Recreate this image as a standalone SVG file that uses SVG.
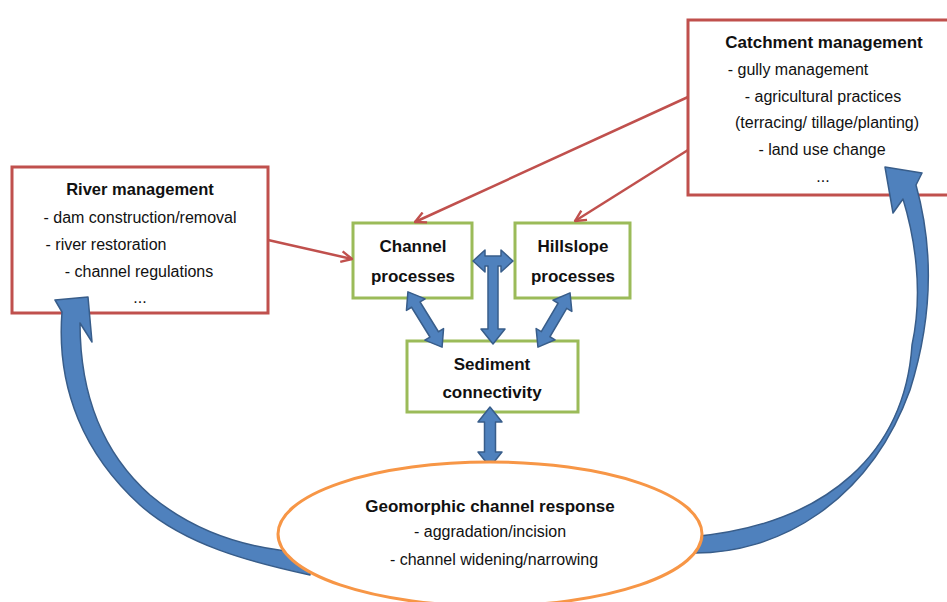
<svg xmlns="http://www.w3.org/2000/svg" width="947" height="602" viewBox="0 0 947 602">
<defs>
<style>
.red{fill:#fff;stroke:#c0504d;stroke-width:3}
.grn{fill:#fff;stroke:#9bbb59;stroke-width:3}
.org{fill:#fff;stroke:#f79646;stroke-width:3}
.blk{fill:#4f81bd;stroke:#385d8a;stroke-width:1.5;stroke-linejoin:round}
.rl{fill:none;stroke:#c0504d;stroke-width:2.5;marker-end:url(#ah)}
text{font-family:"Liberation Sans",Arial,sans-serif;fill:#111;text-anchor:middle}
.b{font-weight:bold;font-size:17px}
.r{font-size:16px}
</style>
<marker id="ah" viewBox="0 0 12 12" refX="11" refY="6" markerWidth="13" markerHeight="13" markerUnits="userSpaceOnUse" orient="auto">
<path d="M1,1 L11,6 L1,11" fill="none" stroke="#c0504d" stroke-width="2.2" stroke-linejoin="round"/>
</marker>
</defs>
<rect width="947" height="602" fill="#fff"/>

<g id="river">
<rect class="red" x="12" y="167" width="256" height="146"/>
<text class="b" x="140" y="195" style="font-size:16.5px">River management</text>
<text class="r" x="140" y="223">- dam construction/removal</text>
<text class="r" x="106" y="250">- river restoration</text>
<text class="r" x="139" y="277">- channel regulations</text>
<text class="r" x="140" y="303">...</text>
</g>

<g id="catchment">
<rect class="red" x="688" y="20" width="270" height="175"/>
<text class="b" x="824" y="48">Catchment management</text>
<text class="r" x="798" y="75">- gully management</text>
<text class="r" x="823" y="102">- agricultural practices</text>
<text class="r" x="827" y="128">(terracing/ tillage/planting)</text>
<text class="r" x="822" y="155">- land use change</text>
<text class="r" x="823" y="182">...</text>
</g>

<g id="channel">
<rect class="grn" x="353" y="223" width="119" height="75"/>
<text class="b" x="413" y="252">Channel</text>
<text class="b" x="413" y="282">processes</text>
</g>

<g id="hillslope">
<rect class="grn" x="515" y="223" width="115" height="75"/>
<text class="b" x="573" y="252">Hillslope</text>
<text class="b" x="573" y="282">processes</text>
</g>

<g id="sediment">
<rect class="grn" x="407" y="341" width="171" height="71"/>
<text class="b" x="492" y="370">Sediment</text>
<text class="b" x="492" y="398">connectivity</text>
</g>

<g id="connectors">
<path class="blk" d="M55,300 L88,297 L92,342 L80,323 C80,400 105,455 150,495 C195,533 250,550 310,553 L310,575 C250,562 185,545 140,505 C85,455 56,390 62,312 Z"/>
<path class="blk" d="M690,553 C780,555 870,500 910,390 C932,320 934,250 916,185 L922,173 L885,167 L893,213 L903,199 C914,235 924,290 912,345 C905,450 830,525 690,537 Z"/>
<line class="rl" x1="268" y1="240" x2="352" y2="259"/>
<line class="rl" x1="688" y1="97" x2="415" y2="222"/>
<line class="rl" x1="688" y1="150" x2="575" y2="221"/>
<polygon class="blk" points="473,261 485,250 485,256 501,256 501,250 513,261 501,272 501,266 498,266 498,329 505,329 493,344 481,329 488,329 488,266 485,266 485,272"/>
<polygon class="blk" transform="translate(425,319.5) rotate(58.3)" points="-32.5,0 -17.5,-11 -17.5,-5 17.5,-5 17.5,-11 32.5,0 17.5,11 17.5,5 -17.5,5 -17.5,11"/>
<polygon class="blk" transform="translate(554,320) rotate(120.6)" points="-31.5,0 -16.5,-11 -16.5,-5 16.5,-5 16.5,-11 31.5,0 16.5,11 16.5,5 -16.5,5 -16.5,11"/>
<polygon class="blk" transform="translate(490,437) rotate(90)" points="-30,0 -15,-12 -15,-5.5 15,-5.5 15,-12 30,0 15,12 15,5.5 -15,5.5 -15,12"/>
</g>

<g id="geomorphic">
<ellipse class="org" cx="490" cy="534" rx="212" ry="72"/>
<text class="b" x="490" y="512">Geomorphic channel response</text>
<text class="r" x="490" y="537">- aggradation/incision</text>
<text class="r" x="494" y="565">- channel widening/narrowing</text>
</g>
</svg>
